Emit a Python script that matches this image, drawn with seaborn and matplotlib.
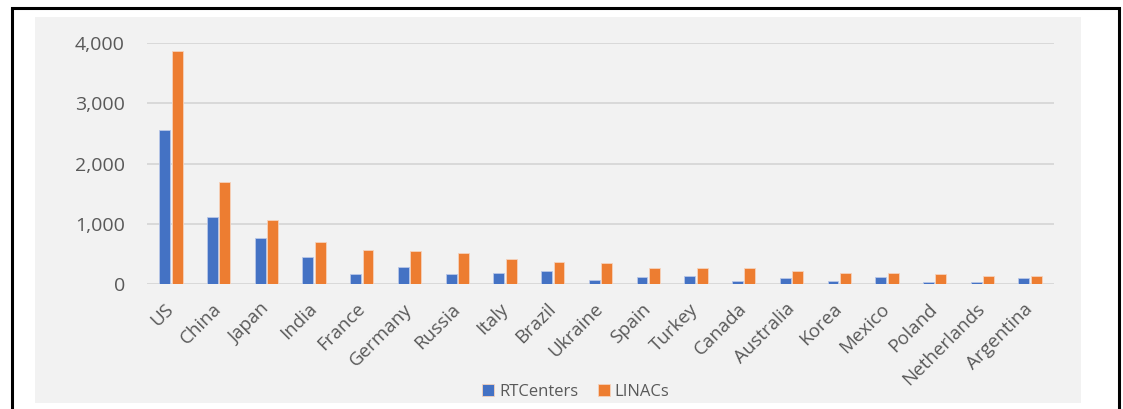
import matplotlib
matplotlib.use("Agg")
import matplotlib.pyplot as plt
from matplotlib.patches import Rectangle
from matplotlib.lines import Line2D
from matplotlib.ticker import FuncFormatter, FixedLocator
import seaborn as sns
import pandas as pd

countries = ["US", "China", "Japan", "India", "France", "Germany", "Russia", "Italy",
             "Brazil", "Ukraine", "Spain", "Turkey", "Canada", "Australia", "Korea",
             "Mexico", "Poland", "Netherlands", "Argentina"]
rt_centers = [2560, 1108, 764, 449, 166, 289, 161, 183, 223, 73, 123, 140, 45, 95, 56,
              111, 40, 28, 95]
linacs = [3870, 1690, 1058, 703, 565, 555, 515, 422, 360, 344, 272, 272, 266, 211, 178,
          178, 161, 140, 128]
series_names = ["RTCenters", "LINACs"]
yticks = [0, 1000, 2000, 3000, 4000]

df = pd.DataFrame({
    "country": countries * 2,
    "value": rt_centers + linacs,
    "series": [series_names[0]] * len(countries) + [series_names[1]] * len(countries),
})

sns.set_theme(style="white")
plt.rcParams["font.family"] = ["Open Sans", "DejaVu Sans"]

W, H = 1123, 409
fig = plt.figure(figsize=(W / 100, H / 100), dpi=100)
fig.patch.set_facecolor("white")

# gray chart panel
fig.add_artist(Rectangle((35 / W, 1 - 403 / H), (1081 - 35) / W, (403 - 17) / H,
                         transform=fig.transFigure, facecolor="#F2F2F2",
                         edgecolor="none", zorder=0))
# black outer frame (open at bottom)
lw = 2.2
fig.add_artist(Line2D([12 / W, 12 / W], [0, 1 - 8 / H], transform=fig.transFigure,
                      color="black", lw=lw, zorder=1))
fig.add_artist(Line2D([1119 / W, 1119 / W], [0, 1 - 8 / H], transform=fig.transFigure,
                      color="black", lw=lw, zorder=1))
fig.add_artist(Line2D([12 / W, 1119 / W], [1 - 8 / H, 1 - 8 / H], transform=fig.transFigure,
                      color="black", lw=lw, zorder=1, solid_capstyle="projecting"))

ax = fig.add_axes([147 / W, 1 - 284 / H, (1054 - 147) / W, (284 - 43.3) / H])
ax.set_facecolor("none")

sns.barplot(data=df, x="country", y="value", hue="series", order=countries,
            hue_order=series_names, palette=["#4472C4", "#ED7D31"],
            width=0.52, gap=0.12, ax=ax, zorder=3, saturation=1,
            edgecolor="#F6D2BC", linewidth=0.6)
# lighter blue edges for the blue series
for patch in ax.patches[:len(countries)]:
    patch.set_edgecolor("#B9C7E8")

ax.set_ylim(0, 4000)
ax.set_xlim(-0.5, len(countries) - 0.5)
ax.yaxis.set_major_locator(FixedLocator(yticks))
ax.yaxis.set_major_formatter(FuncFormatter(lambda v, p: f"{v:,.0f}"))
ax.grid(axis="y", color="#D9D9D9", lw=1.4, zorder=0)
ax.set_axisbelow(True)
for s in ax.spines.values():
    s.set_visible(False)
ax.set_xlabel("")
ax.set_ylabel("")
ax.tick_params(axis="y", length=0, pad=16, labelsize=14, labelcolor="#595959")
ax.tick_params(axis="x", length=0, pad=16, labelsize=13.5, labelcolor="#595959")
for lab in ax.get_xticklabels():
    lab.set_rotation(45)
    lab.set_ha("right")
    lab.set_va("center")
    lab.set_rotation_mode("anchor")

handles, labels = ax.get_legend_handles_labels()
ax.legend(handles, labels, loc="center", bbox_to_anchor=(576 / W, 1 - 392 / H),
          bbox_transform=fig.transFigure, ncol=2, frameon=False, fontsize=12,
          labelcolor="#595959", handlelength=0.7, handleheight=0.7,
          handletextpad=0.3, columnspacing=1.2, borderpad=0)

fig.savefig("out.png", dpi=100)
